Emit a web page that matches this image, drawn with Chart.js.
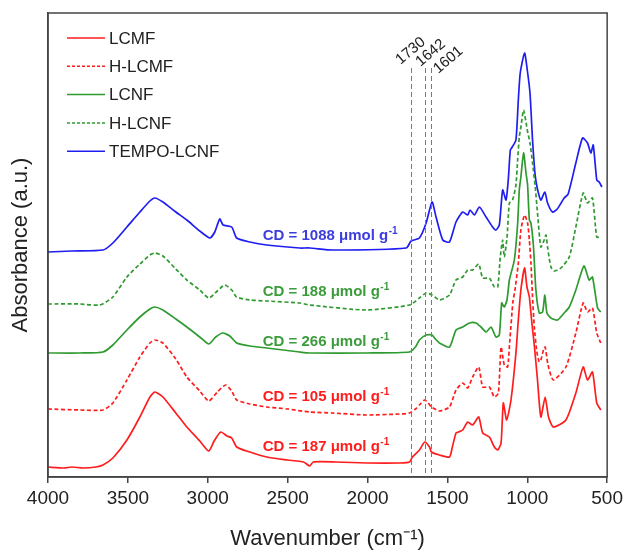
<!DOCTYPE html>
<html>
<head>
<meta charset="utf-8">
<script src="https://cdn.jsdelivr.net/npm/chart.js@4.4.1/dist/chart.umd.min.js"></script>
<style>
  body { margin: 0; background: #fff; }
</style>
</head>
<body>
<canvas id="ftir" width="627" height="552"></canvas>
<script>
// spectra (wavenumber in cm-1, absorbance in arbitrary offset units)
const lcmfWn = [4000,3900,3850,3780,3700,3656,3594,3506,3425,3362,3331,3281,3200,3131,3050,2994,2960,2919,2880,2850,2819,2737,2631,2500,2400,2362,2340,2200,2000,1800,1737,1719,1675,1642,1612,1600,1550,1487,1469,1446,1431,1404,1373,1342,1304,1279,1237,1206,1185,1164,1150,1129,1102,1071,1056,1040,1017,1002,987,973,955,936,915,888,867,837,758,696,650,623,592,565,540];
const lcmfAbs = [10,9,10,9,10,12,19,37,60,80,85,80,64,50,36,26,36,45,41,39,30,25,20,17,15,11,15,15,14,14,15,20,27,35,30,25,22,20,30,44,45,47,55,52,60,44,40,30,27,34,74,57,77,124,157,187,209,190,180,157,130,97,60,80,60,50,57,84,110,97,105,74,67];

const hlcmfWn = [4000,3800,3656,3594,3506,3425,3362,3331,3281,3200,3131,3050,2994,2940,2888,2850,2819,2737,2631,2500,2362,2219,2008,1800,1737,1700,1675,1642,1620,1600,1550,1487,1446,1404,1373,1342,1304,1279,1237,1206,1181,1164,1144,1123,1110,1090,1077,1056,1040,1017,998,987,977,967,956,940,925,915,897,888,870,837,758,696,650,623,592,565,540];
const hlcmfAbs = [68,67,67,74,97,120,134,137,134,118,100,86,76,85,92,86,77,73,70,68,65,64,62,63,64,68,72,77,74,70,66,70,87,94,89,100,110,90,90,80,84,130,112,110,135,175,187,214,247,262,254,237,214,180,150,125,115,117,128,130,112,97,110,144,174,165,169,144,134];

const lcnfWn = [4000,3800,3656,3594,3506,3425,3362,3331,3281,3200,3131,3050,2994,2950,2906,2862,2819,2737,2631,2425,2362,2008,1737,1700,1675,1633,1596,1575,1550,1487,1446,1404,1362,1321,1290,1258,1227,1196,1175,1160,1144,1127,1112,1081,1060,1050,1040,1023,1008,998,987,977,961,946,925,904,890,877,852,810,769,737,696,645,613,592,560,540];
const lcnfAbs = [124,124,125,132,147,160,168,170,167,158,150,140,133,140,144,141,134,131,129,125,124,124,125,130,137,142,142,138,134,130,147,150,154,154,150,145,150,140,142,174,170,177,197,217,254,287,300,324,304,292,257,254,230,187,164,165,182,164,159,157,164,170,187,211,197,200,169,165];

const hlcnfWn = [4000,3800,3675,3594,3506,3425,3362,3331,3281,3200,3131,3050,2994,2940,2894,2850,2819,2737,2631,2425,2362,2008,1737,1675,1633,1596,1550,1487,1446,1404,1373,1342,1304,1279,1237,1206,1185,1169,1154,1144,1127,1112,1092,1071,1060,1050,1040,1023,1000,983,967,950,936,915,894,883,873,852,831,789,737,696,650,623,592,565,540];
const hlcnfAbs = [173,173,172,180,200,213,222,224,221,208,197,187,179,186,192,187,180,177,176,174,172,167,172,179,184,182,177,182,197,200,207,207,213,199,199,190,190,220,237,220,239,274,277,292,318,340,350,367,347,334,314,290,264,230,237,242,230,210,206,209,220,250,284,274,279,240,240];

const tempoWn = [4000,3850,3656,3594,3506,3425,3362,3331,3281,3200,3131,3050,2987,2956,2925,2904,2850,2819,2737,2631,2425,2362,2219,1758,1727,1675,1633,1596,1571,1529,1487,1446,1404,1373,1358,1331,1300,1258,1217,1196,1175,1154,1133,1119,1106,1094,1071,1056,1044,1017,1000,983,967,952,939,915,890,873,842,812,769,744,696,654,623,602,587,565,550,533];
const tempoAbs = [225,226,227,234,250,265,276,279,275,265,257,246,239,245,258,252,250,239,235,232,229,229,227,229,236,239,254,275,260,237,235,255,265,262,267,262,270,260,250,247,252,287,277,297,327,330,337,377,404,424,407,384,337,304,290,277,285,274,265,268,279,283,314,339,334,324,332,297,295,290];

const seriesNames = ['LCMF', 'H-LCMF', 'LCNF', 'H-LCNF', 'TEMPO-LCNF'];
const cdLabels = ['CD = 1088 μmol g', 'CD = 188 μmol g', 'CD = 266 μmol g', 'CD = 105 μmol g', 'CD = 187 μmol g'];
const markerWn = [1730, 1642, 1601];
const xTicks = [4000, 3500, 3000, 2500, 2000, 1500, 1000, 500];

const RED = '#ff1c1c', GREEN = '#2f9a2f', BLUE = '#1e1ef0';
const FONT = '"Liberation Sans", Arial, sans-serif';
Chart.defaults.font.family = FONT;

function pts(wn, abs) {
  return wn.map((w, i) => ({ x: w, y: abs[i] }));
}

function line(label, wn, abs, color, dashed) {
  return {
    label: label,
    data: pts(wn, abs),
    borderColor: color,
    borderWidth: 1.7,
    borderDash: dashed ? [4, 2.5] : [],
    pointRadius: 0,
    tension: 0.2,
    fill: false
  };
}

const legendItems = [
  { color: RED, dashed: false },
  { color: RED, dashed: true },
  { color: GREEN, dashed: false },
  { color: GREEN, dashed: true },
  { color: BLUE, dashed: false }
];

// labels, marker lines, frame and legend drawn on top of the plot
const decor = {
  id: 'decor',
  afterDatasetsDraw(chart) {
    const { ctx, chartArea: a, scales: { x, y } } = chart;
    ctx.save();

    // dashed marker lines
    ctx.setLineDash([5, 3]);
    ctx.strokeStyle = '#7a7a7a';
    ctx.lineWidth = 1;
    markerWn.forEach(w => {
      const px = Math.round(x.getPixelForValue(w)) + 0.5;
      ctx.beginPath();
      ctx.moveTo(px, y.getPixelForValue(409));
      ctx.lineTo(px, a.bottom);
      ctx.stroke();
    });
    ctx.setLineDash([]);

    // rotated marker labels
    const labelDx = [0, 6, 17], labelY = [51, 53, 60];
    ctx.fillStyle = '#222';
    ctx.font = '15px ' + FONT;
    ctx.textAlign = 'center';
    ctx.textBaseline = 'middle';
    markerWn.forEach((w, i) => {
      ctx.save();
      ctx.translate(x.getPixelForValue(w) + labelDx[i], labelY[i]);
      ctx.rotate(-40 * Math.PI / 180);
      ctx.fillText(String(w), 0, 0);
      ctx.restore();
    });

    // CD annotations
    const cdColors = ['#3c3ce0', '#3c9c3c', '#3c9c3c', RED, RED];
    const cdAt = [241, 185, 135, 80, 30];
    ctx.textAlign = 'left';
    cdLabels.forEach((t, i) => {
      const px = x.getPixelForValue(2656);
      const py = y.getPixelForValue(cdAt[i]);
      ctx.fillStyle = cdColors[i];
      ctx.font = 'bold 15px ' + FONT;
      ctx.fillText(t, px, py);
      const w = ctx.measureText(t).width;
      ctx.font = 'bold 10px ' + FONT;
      ctx.fillText('-1', px + w + 0.5, py - 5);
    });

    // legend
    ctx.font = '17px ' + FONT;
    ctx.textBaseline = 'middle';
    legendItems.forEach((it, i) => {
      const ly = 38 + i * 28.3;
      ctx.strokeStyle = it.color;
      ctx.lineWidth = 1.5;
      ctx.setLineDash(it.dashed ? [3, 2] : []);
      ctx.beginPath();
      ctx.moveTo(67, ly);
      ctx.lineTo(105, ly);
      ctx.stroke();
      ctx.fillStyle = '#222';
      ctx.fillText(seriesNames[i], 109, ly + 1);
    });
    ctx.setLineDash([]);

    // frame
    ctx.strokeStyle = '#444';
    ctx.lineWidth = 1.5;
    ctx.strokeRect(a.left, a.top, a.right - a.left, a.bottom - a.top);
    ctx.restore();
  }
};

new Chart(document.getElementById('ftir').getContext('2d'), {
  type: 'line',
  data: {
    datasets: [
      line(seriesNames[0], lcmfWn, lcmfAbs, RED, false),
      line(seriesNames[1], hlcmfWn, hlcmfAbs, RED, true),
      line(seriesNames[2], lcnfWn, lcnfAbs, GREEN, false),
      line(seriesNames[3], hlcnfWn, hlcnfAbs, GREEN, true),
      line(seriesNames[4], tempoWn, tempoAbs, BLUE, false)
    ]
  },
  options: {
    responsive: false,
    animation: false,
    devicePixelRatio: 1,
    layout: { padding: { left: 0, right: 18, top: 13, bottom: 0 } },
    plugins: { legend: { display: false }, tooltip: { enabled: false } },
    scales: {
      x: {
        type: 'linear',
        reverse: true,
        min: 500,
        max: 4000,
        afterBuildTicks: s => { s.ticks = xTicks.map(v => ({ value: v })); },
        ticks: {
          color: '#222',
          font: { size: 19 },
          padding: 4,
          maxRotation: 0,
          callback: v => String(v)
        },
        grid: { drawOnChartArea: false, drawTicks: true, tickLength: 6, color: '#444', lineWidth: 1.5 },
        border: { color: '#444', width: 1.5 },
        title: { display: true, text: 'Wavenumber (cm⁻¹)', color: '#222', font: { size: 22 }, padding: { top: 0, bottom: 0 } },
        afterFit: s => { s.height = 75; }
      },
      y: {
        min: 0,
        max: 464,
        ticks: { display: false },
        grid: { display: false },
        border: { color: '#444', width: 1.5 },
        title: { display: true, text: 'Absorbance (a.u.)', color: '#222', font: { size: 22 }, padding: { top: 8, bottom: 0 } },
        afterFit: s => { s.width = 48; }
      }
    }
  },
  plugins: [decor]
});
</script>
</body>
</html>
